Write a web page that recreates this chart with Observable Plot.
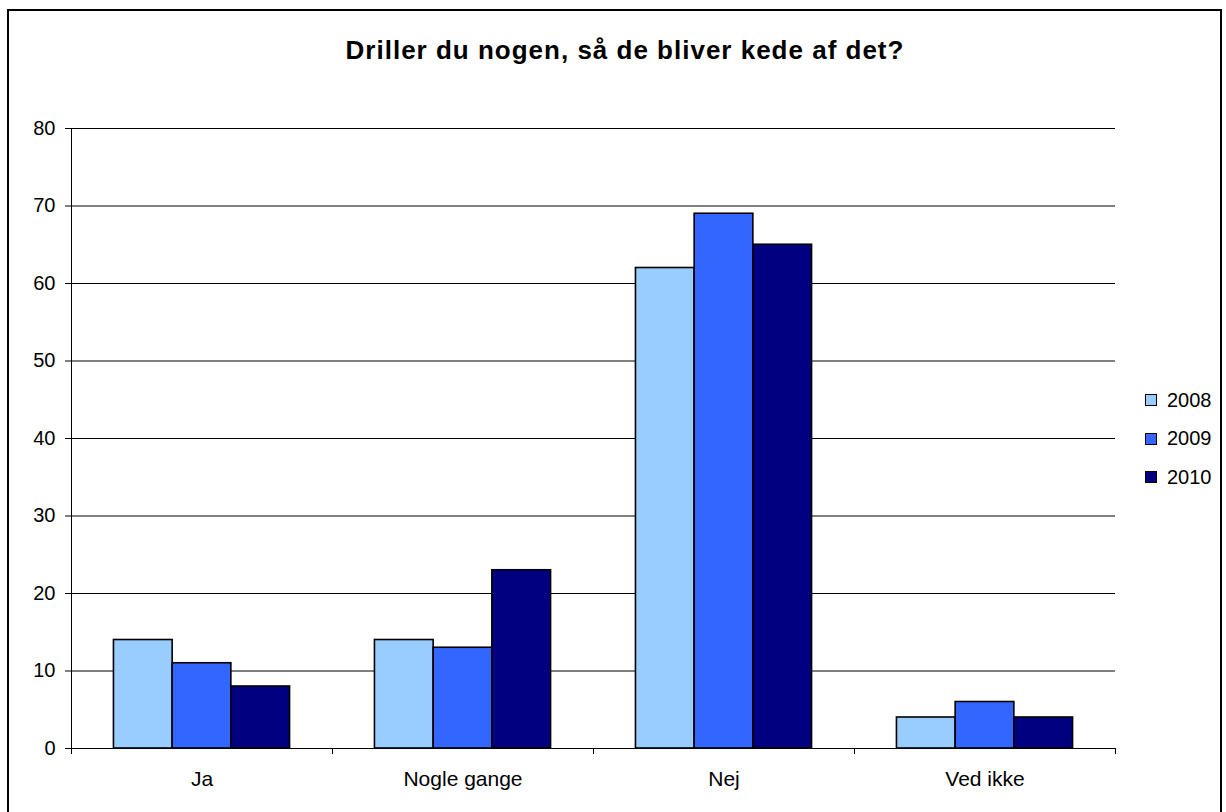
<!DOCTYPE html>
<html>
<head>
<meta charset="utf-8">
<script src="https://cdn.jsdelivr.net/npm/d3@7"></script>
<script src="https://cdn.jsdelivr.net/npm/@observablehq/plot@0.6"></script>
<style>
  html, body { margin: 0; padding: 0; background: #fff; overflow: hidden; }
  #wrap { position: relative; width: 1226px; height: 812px; font-family: "Liberation Sans", Arial, sans-serif; }
  #border { position: absolute; left: 7px; top: 9px; width: 1215px; height: 820px; border: 2px solid #000; box-sizing: border-box; pointer-events: none; }
  #title { position: absolute; left: 0; width: 1250px; top: 37px; text-align: center; font-size: 26px; line-height: 26px; font-weight: bold; letter-spacing: 1px; color: #000; }
  #legend { position: absolute; left: 1145px; top: 381px; font-size: 20px; color: #000; }
  .row { display: flex; align-items: center; height: 38.5px; }
  .sw { width: 10px; height: 10px; border: 1px solid #000; margin-right: 10px; }
  #chart { position: absolute; left: 0; top: 0; }
</style>
</head>
<body>
<div id="wrap">
  <div id="chart"></div>
  <div id="title">Driller du nogen, så de bliver kede af det?</div>
  <div id="legend"></div>
  <div id="border"></div>
</div>
<script>
const categories = ["Ja", "Nogle gange", "Nej", "Ved ikke"];
const years = ["2008", "2009", "2010"];
const values2008 = [14, 14, 62, 4];
const values2009 = [11, 13, 69, 6];
const values2010 = [8, 23, 65, 4];
const yTicks = [0, 10, 20, 30, 40, 50, 60, 70, 80];
const colors = ["#99CCFF", "#3366FF", "#000080"];

const series = [values2008, values2009, values2010];
const data = [];
years.forEach((yr, k) => categories.forEach((c, i) => data.push({year: yr, cat: c, value: series[k][i]})));

const W = 1226, H = 812;
const mL = 71, mR = 111, mT = 128, mB = 64;
const step = (W - mL - mR) / categories.length;
const barW = 58.7;
const groupPad = (step - barW * years.length) / 2;

const marks = [
  Plot.ruleY(yTicks, {y: d => d, stroke: "#000", strokeWidth: 1, insetLeft: -6}),
  Plot.frame({anchor: "left", stroke: "#000", strokeWidth: 1}),
  ...years.map((yr, k) => Plot.barY(data.filter(d => d.year === yr), {
    x: "cat", y: "value", fill: colors[k], stroke: "#000", strokeWidth: 1.6,
    insetLeft: groupPad + k * barW,
    insetRight: step - groupPad - (k + 1) * barW
  })),
  Plot.ruleX(categories, {x: d => d, y1: 0, y2: 0, dx: -step / 2, insetBottom: -6, stroke: "#000"}),
  Plot.ruleX(categories.slice(-1), {x: d => d, y1: 0, y2: 0, dx: step / 2, insetBottom: -6, stroke: "#000"}),
  Plot.axisY({ticks: yTicks, tickSize: 0, tickPadding: 16, fontSize: 20, label: null}),
  Plot.axisX({tickSize: 0, tickPadding: 23, fontSize: 21, label: null})
];

const chart = Plot.plot({
  width: W, height: H,
  marginLeft: mL, marginRight: mR, marginTop: mT, marginBottom: mB,
  style: {fontFamily: "'Liberation Sans', Arial, sans-serif", fontSize: "20px", color: "#000", background: "transparent"},
  x: {domain: categories, padding: 0},
  y: {domain: [0, 80]},
  marks
});
document.getElementById("chart").appendChild(chart);

const legend = document.getElementById("legend");
years.forEach((yr, k) => {
  const row = document.createElement("div");
  row.className = "row";
  const sw = document.createElement("div");
  sw.className = "sw";
  sw.style.background = colors[k];
  const t = document.createElement("span");
  t.textContent = yr;
  row.appendChild(sw); row.appendChild(t);
  legend.appendChild(row);
});
</script>
</body>
</html>
